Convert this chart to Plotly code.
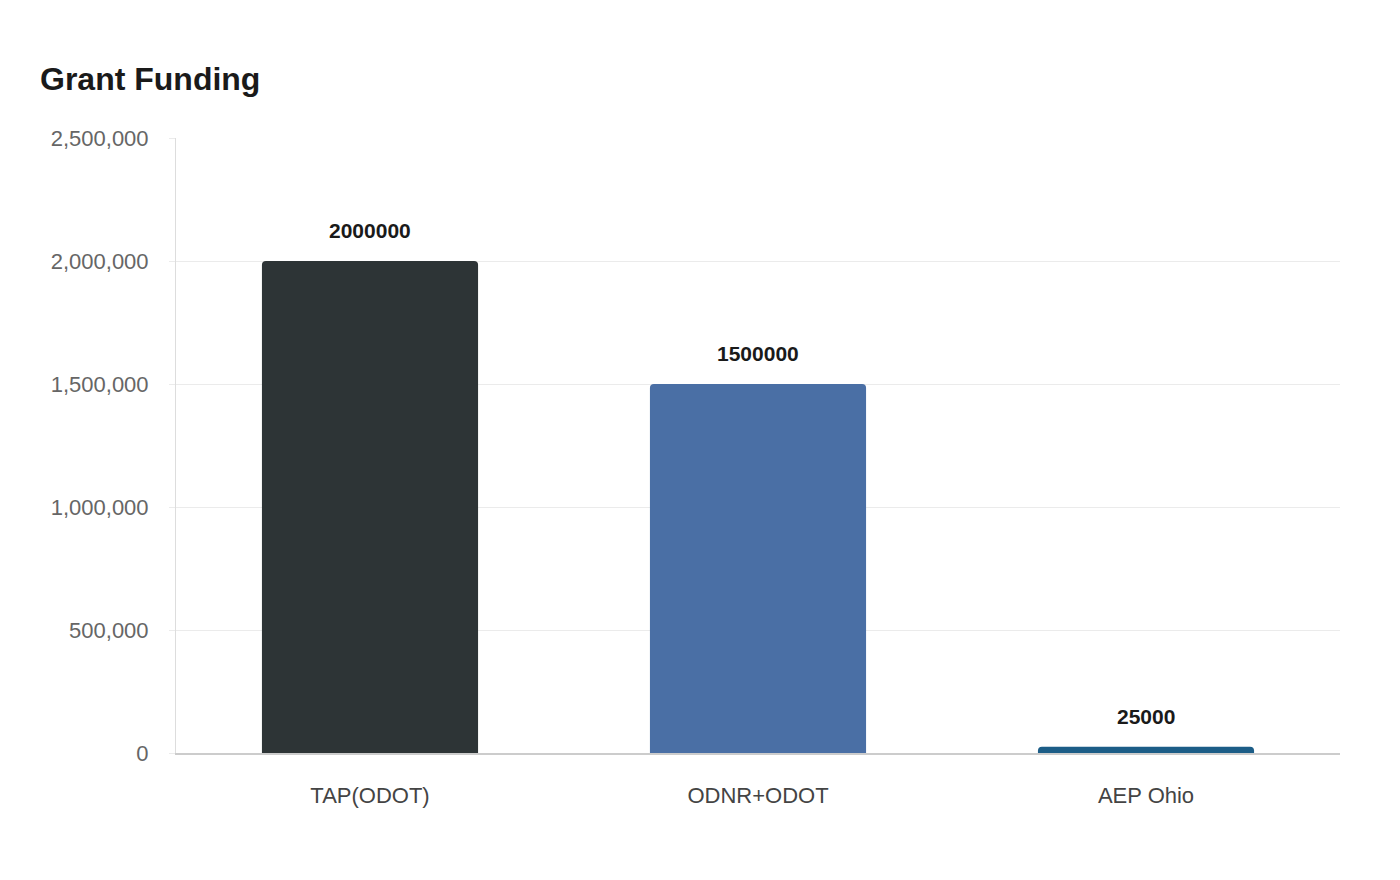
import plotly.graph_objects as go

categories = ["TAP(ODOT)", "ODNR+ODOT", "AEP Ohio"]
values = [2000000, 1500000, 25000]
colors = ["#2d3436", "#4a6fa5", "#1c5d87"]
tick_vals = [0, 500000, 1000000, 1500000, 2000000, 2500000]

fig = go.Figure()
fig.add_trace(go.Bar(
    x=categories, y=values,
    marker=dict(color=colors, line=dict(width=0)),
    hoverinfo="skip",
))

for c, v in zip(categories, values):
    fig.add_annotation(
        x=c, y=v, text=f"<b>{v}</b>", showarrow=False,
        yanchor="bottom", yshift=17,
        font=dict(family="Liberation Sans, Arial, sans-serif", size=21, color="#1a1a1a"),
    )

fig.update_layout(
    width=1400, height=880,
    paper_bgcolor="white", plot_bgcolor="white",
    margin=dict(l=168, r=68, t=130, b=135),
    bargap=0.443,
    barcornerradius=4,
    showlegend=False,
    font=dict(family="Liberation Sans, Arial, sans-serif"),
    title=dict(
        text="<b>Grant Funding</b>",
        x=32/1400, xref="container", xanchor="left",
        y=1 - 71/880, yref="container", yanchor="middle",
        font=dict(size=32, color="#1a1a1a", family="Liberation Sans, Arial, sans-serif"),
    ),
    xaxis=dict(
        showgrid=False,
        showline=True, linecolor="#cccccc", linewidth=1.5,
        ticks="", tickfont=dict(size=22, color="#444444"),
        ticklabelstandoff=22,
    ),
    yaxis=dict(
        range=[0, 2500000],
        tickvals=tick_vals,
        tickformat=",d",
        showgrid=True, gridcolor="#ebebeb", gridwidth=1,
        showline=True, linecolor="#dddddd", linewidth=1,
        ticks="outside", ticklen=6, tickcolor="#ebebeb",
        tickfont=dict(size=22, color="#666666"),
        ticklabelstandoff=16,
        zeroline=False,
    ),
)

fig.write_html("out.html")
